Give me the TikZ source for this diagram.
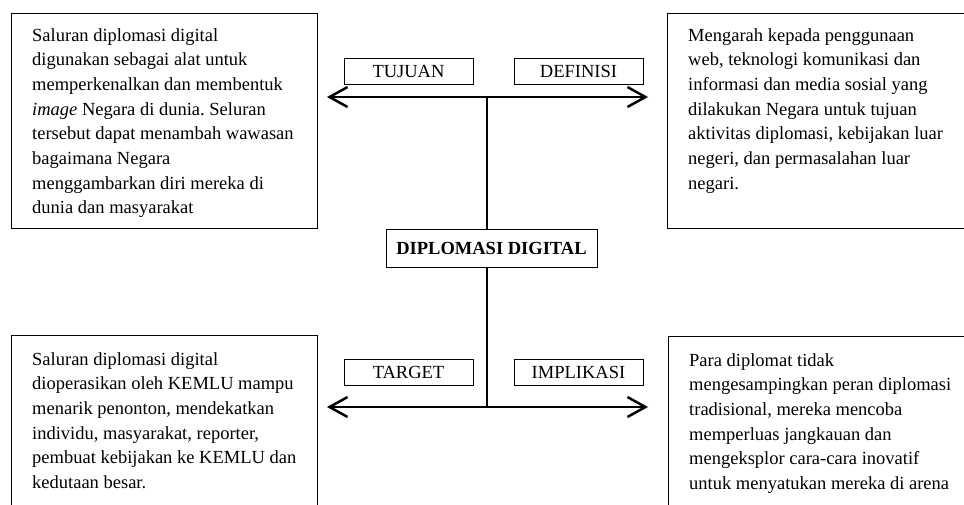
\documentclass[tikz,border=0pt]{standalone}
\usepackage{fontspec}
\setmainfont{Liberation Serif}
\frenchspacing
\usetikzlibrary{arrows.meta,positioning}
\tikzset{
  descbox/.style={draw, line width=1pt, anchor=north west, inner sep=0pt, minimum width=306pt},
  desctext/.style={anchor=north west, inner sep=0pt, align=left, font=\fontsize{18.5}{24.7}\selectfont},
  tagbox/.style={draw, line width=1pt, minimum width=129pt, minimum height=26pt, inner sep=0pt, font=\fontsize{18.5}{22}\selectfont},
  titlebox/.style={draw, line width=1pt, minimum width=211pt, minimum height=38pt, inner sep=0pt, font=\fontsize{18.5}{22}\selectfont\bfseries},
  biarrow/.style={line width=2.5pt, {Straight Barb[length=18pt,width=20pt]}-{Straight Barb[length=18pt,width=20pt]}},
  stem/.style={line width=2pt}
}
\begin{document}
\begin{tikzpicture}[x=1pt,y=-1pt]
\useasboundingbox (0,0) rectangle (964,504);
% description boxes
\node[descbox, minimum height=215pt] (tujuanbox) at (11,13) {};
\node[desctext] (tujuantext) at ([xshift=21pt,yshift=-15pt]tujuanbox.north west)
  {Saluran diplomasi digital\\ digunakan sebagai alat untuk\\ memperkenalkan dan membentuk\\
   \textit{image} Negara di dunia. Seluran\\ tersebut dapat menambah wawasan\\ bagaimana Negara\\
   menggambarkan diri mereka di\\ dunia dan masyarakat};
\node[descbox, minimum width=320pt, minimum height=215pt] (definisibox) at (667,13) {};
\node[desctext] (definisitext) at ([xshift=21pt,yshift=-15pt]definisibox.north west)
  {Mengarah kepada penggunaan\\ web, teknologi komunikasi dan\\ informasi dan media sosial yang\\
   dilakukan Negara untuk tujuan\\ aktivitas diplomasi, kebijakan luar\\ negeri, dan permasalahan luar\\ negari.};
\node[descbox, minimum height=250pt] (targetbox) at (11,335) {};
\node[desctext] (targettext) at ([xshift=21pt,yshift=-17pt]targetbox.north west)
  {Saluran diplomasi digital\\ dioperasikan oleh KEMLU mampu\\ menarik penonton, mendekatkan\\
   individu, masyarakat, reporter,\\ pembuat kebijakan ke KEMLU dan\\ kedutaan besar.};
\node[descbox, minimum width=320pt, minimum height=250pt] (implikasibox) at (668,336) {};
\node[desctext] (implikasitext) at ([xshift=21pt,yshift=-17pt]implikasibox.north west)
  {Para diplomat tidak\\ mengesampingkan peran diplomasi\\ tradisional, mereka mencoba\\
   memperluas jangkauan dan\\ mengeksplor cara-cara inovatif\\ untuk menyatukan mereka di arena};
% labels
\node[tagbox] (tujuan) at (408.5,71) {TUJUAN};
\node[tagbox] (definisi) at (578.5,71) {DEFINISI};
\node[tagbox] (target) at (408.5,372) {TARGET};
\node[tagbox] (implikasi) at (578.5,372) {IMPLIKASI};
\node[titlebox] (dd) at (491.5,248) {DIPLOMASI DIGITAL};
% arrows
\coordinate (topleft) at (327,97);
\coordinate (topright) at (648,97);
\coordinate (topmid) at (487,97);
\coordinate (botleft) at (327,407);
\coordinate (botright) at (648,407);
\coordinate (botmid) at (487,407);
\draw[biarrow] (topleft) -- (topright);
\draw[biarrow] (botleft) -- (botright);
\draw[stem] (topmid) -- (topmid |- dd.north);
\draw[stem] (dd.south -| botmid) -- (botmid);
\end{tikzpicture}
\end{document}
